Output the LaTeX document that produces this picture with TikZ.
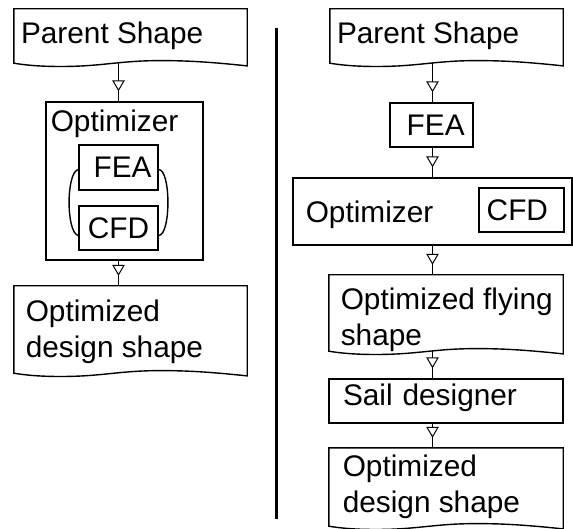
\documentclass[tikz,border=0pt]{standalone}
\usepackage{fontspec}
\setmainfont{Liberation Sans}
\usetikzlibrary{arrows.meta,positioning,calc}
\definecolor{inkline}{HTML}{000000}
\definecolor{paper}{HTML}{FFFFFF}
\newcommand\flowfont{\fontsize{29.8pt}{35.5pt}\selectfont}
% document shape: straight top and sides, wavy bottom
\newcommand\docoutline[1]{%
  \draw[draw=inkline, line width=1.4pt] (#1.north west) -- (#1.north east) -- ($(#1.south east)+(0,2.7)$)
    .. controls ($(#1.south west)!0.85!(#1.south east)+(0,-1)$) and ($(#1.south west)!0.75!(#1.south east)+(0,-2.6)$) .. ($(#1.south west)!0.63!(#1.south east)+(0,-2.6)$)
    .. controls ($(#1.south west)!0.45!(#1.south east)+(0,-2.6)$) and ($(#1.south west)!0.38!(#1.south east)+(0,3.3)$) .. ($(#1.south west)!0.2!(#1.south east)+(0,3.3)$)
    .. controls ($(#1.south west)!0.1!(#1.south east)+(0,3.3)$) and ($(#1.south west)!0.04!(#1.south east)+(0,1.5)$) .. (#1.south west) -- cycle;}

\begin{document}
\begin{tikzpicture}[x=1pt, y=-1pt,
  box/.style={rectangle, draw=inkline, line width=1.4pt, inner sep=0pt, font=\flowfont},
  doc/.style={rectangle, inner sep=0pt, minimum width=233pt},
  txt/.style={anchor=base west, inner sep=0pt, align=left, font=\flowfont},
  flow/.style={draw=inkline, line width=1pt, postaction={draw, -{Triangle[open, fill=paper, length=11pt, width=12.5pt]}, shorten >=10pt}}]
\useasboundingbox (0,0) rectangle (573,529);
\fill[paper] (0,0) rectangle (573,529);
\coordinate (axL) at (118.5,0);
\coordinate (axR) at (432.5,0);

% left chain
\node[doc, minimum height=54pt] (p1) at (130.5,36) {};
\docoutline{p1}
\node[txt] (p1txt) at (20.8,43.3) {Parent Shape};
\node[box, minimum width=157pt, minimum height=158pt] (optL) at (124.5,181) {};
\node[txt] (optLtxt) at (50.6,132) {Optimizer};
\node[box, minimum width=79pt, minimum height=45pt] (feaL) at (118.5,167.5) {\hphantom{\ }FEA};
\node[box, minimum width=79pt, minimum height=44pt] (cfdL) at (118.5,228) {CFD};
\draw[inkline, line width=1.4pt] ($(feaL.west)+(0,2)$) .. controls (66,172) and (66,233) .. ($(cfdL.west)+(0,7.5)$);
\draw[inkline, line width=1.4pt] ($(feaL.east)+(0,2)$) .. controls (171,170) and (171,235) .. ($(cfdL.east)+(0,7.5)$);
\node[doc, minimum height=87pt] (resL) at (130.5,329.5) {};
\docoutline{resL}
\node[txt] (resLtxt) at (25.6,357) {Optimized\\design shape};
\draw[flow] (p1.south -| axL) -- (optL.north -| axL);
\draw[flow] (optL.south -| axL) -- (resL.north -| axL);

% divider
\draw[inkline, line width=3pt] (276.5,28) -- (276.5,519);

% right chain
\node[doc, minimum height=54pt] (p2) at (446.5,36) {};
\docoutline{p2}
\node[txt] (p2txt) at (336.8,43.3) {Parent Shape};
\node[box, minimum width=83pt, minimum height=44pt] (feaR) at (431.5,125) {\hphantom{\ }FEA};
\node[box, minimum width=279pt, minimum height=67pt] (optR) at (432.5,211.5) {};
\node[txt] (optRtxt) at (305.6,223) {Optimizer};
\node[box, minimum width=85pt, minimum height=44pt] (cfdR) at (521.5,210) {CFD\hphantom{\ }};
\node[doc, minimum width=234pt, minimum height=76pt] (fly) at (446,313) {};
\docoutline{fly}
\node[txt] (flytxt) at (340.6,345) {Optimized flying\\shape};
\node[box, minimum width=234pt, minimum height=44pt, text width=206pt, inner xsep=14pt, align=left, text depth=12pt] (sail) at (446,401) {Sail designer};
\node[doc, minimum width=234pt, minimum height=78pt] (resR) at (446,487) {};
\docoutline{resR}
\node[txt] (resRtxt) at (342.6,512) {Optimized\\design shape};
\draw[flow] (p2.south -| axR) -- (feaR.north -| axR);
\draw[flow] (feaR.south -| axR) -- (optR.north -| axR);
\draw[flow] (optR.south -| axR) -- (fly.north -| axR);
\draw[flow] (fly.south -| axR) -- (sail.north -| axR);
\draw[flow] (sail.south -| axR) -- (resR.north -| axR);
\end{tikzpicture}
\end{document}
